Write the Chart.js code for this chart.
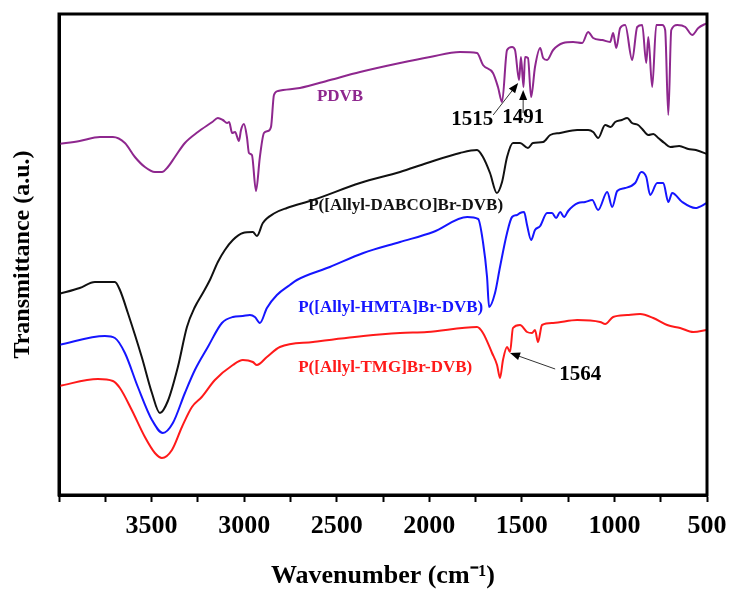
<!DOCTYPE html>
<html>
<head>
<meta charset="utf-8">
<script src="https://cdn.jsdelivr.net/npm/chart.js@4/dist/chart.umd.min.js"></script>
<style>
  body { margin: 0; background: #fff; }
  #box { width: 729px; height: 589px; }
</style>
</head>
<body>
<div id="box"><canvas id="myChart"></canvas></div>
<script>
// FTIR spectra, wavenumber (cm-1) vs transmittance (arbitrary units, curves offset)
var pdvbWn = [4000, 3888, 3779, 3709, 3644, 3590, 3536, 3482, 3444, 3412, 3374, 3320, 3250, 3172, 3142, 3115, 3092, 3081, 3065, 3049, 3028, 3017, 3001, 2985, 2974, 2958, 2936, 2915, 2893, 2872, 2855, 2839, 2817, 2699, 2536, 2374, 2158, 1996, 1834, 1742, 1710, 1656, 1629, 1607, 1580, 1553, 1537, 1515, 1505, 1491, 1483, 1467, 1450, 1429, 1401, 1385, 1364, 1331, 1277, 1223, 1174, 1142, 1115, 1066, 1023, 1007, 990, 969, 942, 904, 877, 850, 828, 817, 796, 774, 742, 726, 709, 693, 661, 617, 580, 547, 500];
var pdvbT = [351, 354, 358, 358, 352, 338, 328, 323, 323, 328, 338, 352, 363, 373, 377, 375, 372, 373, 362, 363, 354, 365, 371, 358, 342, 340, 304, 338, 362, 364, 368, 400, 404, 407, 415, 423, 432, 438, 443, 442, 430, 422, 408, 393, 445, 448, 445, 415, 438, 408, 438, 437, 398, 428, 447, 437, 435, 445, 452, 453, 452, 463, 457, 455, 453, 462, 447, 467, 470, 435, 468, 470, 432, 458, 408, 470, 470, 465, 380, 465, 470, 468, 460, 467, 472];

var dabcoWn = [4000, 3888, 3806, 3698, 3671, 3628, 3553, 3498, 3455, 3412, 3358, 3309, 3266, 3223, 3185, 3142, 3104, 3061, 3007, 2953, 2931, 2899, 2834, 2769, 2628, 2374, 2158, 2012, 1834, 1742, 1710, 1672, 1635, 1607, 1580, 1548, 1510, 1467, 1440, 1385, 1347, 1293, 1201, 1142, 1115, 1088, 1050, 1020, 996, 960, 931, 905, 872, 850, 817, 790, 763, 730, 698, 650, 601, 560, 500];
var dabcoT = [201, 207, 213, 213, 205, 182, 138, 102, 82, 94, 128, 168, 188, 202, 215, 233, 245, 255, 262, 263, 259, 272, 282, 287, 295, 312, 323, 332, 342, 345, 338, 322, 302, 313, 338, 352, 352, 347, 352, 353, 360, 362, 365, 365, 363, 357, 370, 368, 373, 375, 377, 372, 370, 366, 360, 361, 357, 352, 348, 349, 346, 345, 341];

var hmtaWn = [4000, 3752, 3698, 3644, 3574, 3498, 3439, 3385, 3320, 3266, 3196, 3120, 3061, 3007, 2969, 2942, 2915, 2877, 2823, 2753, 2715, 2537, 2356, 2158, 1979, 1795, 1736, 1710, 1688, 1677, 1645, 1618, 1580, 1553, 1526, 1510, 1488, 1472, 1450, 1429, 1401, 1364, 1337, 1315, 1293, 1272, 1250, 1223, 1196, 1158, 1120, 1088, 1039, 1012, 985, 942, 888, 855, 828, 807, 769, 736, 709, 688, 634, 563, 500];
var hmtaT = [150, 159, 157, 142, 108, 75, 62, 72, 102, 125, 148, 172, 178, 179, 180, 178, 172, 187, 200, 210, 215, 228, 242, 253, 263, 278, 276, 253, 218, 188, 202, 228, 262, 278, 280, 282, 283, 270, 255, 265, 269, 282, 282, 277, 283, 278, 284, 289, 292, 293, 295, 285, 303, 288, 304, 307, 312, 323, 318, 300, 312, 312, 293, 302, 293, 287, 292];

var tmgWn = [4000, 3790, 3709, 3671, 3607, 3536, 3482, 3444, 3390, 3336, 3282, 3229, 3158, 3061, 3007, 2953, 2931, 2877, 2807, 2628, 2356, 2158, 2012, 1742, 1710, 1661, 1634, 1618, 1602, 1580, 1564, 1548, 1510, 1472, 1445, 1429, 1413, 1391, 1331, 1201, 1077, 1050, 1007, 931, 861, 790, 715, 645, 574, 500];
var tmgT = [109, 116, 114, 107, 85, 58, 42, 37, 45, 68, 88, 98, 115, 130, 135, 133, 130, 138, 148, 153, 159, 162, 163, 168, 162, 142, 130, 117, 135, 148, 143, 167, 170, 163, 162, 165, 153, 170, 172, 175, 173, 171, 178, 180, 181, 177, 170, 167, 163, 165];

var xTicks = [3500, 3000, 2500, 2000, 1500, 1000, 500];

// text labels: [text, wavenumber, T, colour, size, align]
var labels = [
  ["PDVB", 2607, 398, "#8e278e", 17, "left"],
  ["P([Allyl-DABCO]Br-DVB)", 2654, 289, "#111111", 17, "left"],
  ["P([Allyl-HMTA]Br-DVB)", 2708, 187, "#1515ff", 17, "left"],
  ["P([Allyl-TMG]Br-DVB)", 2708, 127, "#ff1a1a", 17, "left"],
  ["1515", 1768, 375, "#000", 21, "center"],
  ["1491", 1493, 377, "#000", 21, "center"],
  ["1564", 1185, 120, "#000", 21, "center"]
];
// arrows: [fromWn, fromT, toWn, toT]
var arrows = [
  [1655, 380, 1520, 412],
  [1493, 382, 1493, 405],
  [1320, 126, 1564, 142]
];

function pts(wn, t) {
  return wn.map(function (w, i) { return { x: w, y: t[i] }; });
}

var extras = {
  id: 'extras',
  afterDraw: function (chart) {
    var ctx = chart.ctx, a = chart.chartArea;
    var xs = chart.scales.x, ys = chart.scales.y;
    ctx.save();
    ctx.lineWidth = 3;
    ctx.strokeStyle = '#000';
    ctx.strokeRect(a.left, a.top, a.right - a.left, a.bottom - a.top);

    ctx.textBaseline = 'middle';
    labels.forEach(function (l) {
      ctx.font = 'bold ' + l[4] + 'px "Liberation Serif", "Times New Roman", serif';
      ctx.fillStyle = l[3];
      ctx.textAlign = l[5];
      ctx.fillText(l[0], xs.getPixelForValue(l[1]), ys.getPixelForValue(l[2]));
    });

    arrows.forEach(function (r) {
      var x1 = xs.getPixelForValue(r[0]), y1 = ys.getPixelForValue(r[1]);
      var x2 = xs.getPixelForValue(r[2]), y2 = ys.getPixelForValue(r[3]);
      var ang = Math.atan2(y2 - y1, x2 - x1);
      ctx.strokeStyle = '#333';
      ctx.lineWidth = 1;
      ctx.beginPath();
      ctx.moveTo(x1, y1);
      ctx.lineTo(x2 - 6 * Math.cos(ang), y2 - 6 * Math.sin(ang));
      ctx.stroke();
      ctx.fillStyle = '#000';
      ctx.beginPath();
      ctx.moveTo(x2, y2);
      ctx.lineTo(x2 - 10 * Math.cos(ang) + 4 * Math.sin(ang), y2 - 10 * Math.sin(ang) - 4 * Math.cos(ang));
      ctx.lineTo(x2 - 10 * Math.cos(ang) - 4 * Math.sin(ang), y2 - 10 * Math.sin(ang) + 4 * Math.cos(ang));
      ctx.closePath();
      ctx.fill();
    });
    ctx.restore();
  }
};

var serif = '"Liberation Serif", "Times New Roman", serif';
var ctx = document.getElementById("myChart");
var myChart = new Chart(ctx, {
  type: 'line',
  data: {
    datasets: [
      { label: 'PDVB', data: pts(pdvbWn, pdvbT), borderColor: '#8e278e' },
      { label: 'P([Allyl-DABCO]Br-DVB)', data: pts(dabcoWn, dabcoT), borderColor: '#111111' },
      { label: 'P([Allyl-HMTA]Br-DVB)', data: pts(hmtaWn, hmtaT), borderColor: '#1515ff' },
      { label: 'P([Allyl-TMG]Br-DVB)', data: pts(tmgWn, tmgT), borderColor: '#ff1a1a' }
    ]
  },
  options: {
    responsive: true,
    maintainAspectRatio: false,
    animation: false,
    layout: { padding: { top: 14, right: 22, left: 0, bottom: 0 } },
    elements: {
      point: { radius: 0 },
      line: { borderWidth: 2, cubicInterpolationMode: 'monotone', fill: false }
    },
    plugins: { legend: { display: false }, tooltip: { enabled: false } },
    scales: {
      x: {
        type: 'linear',
        reverse: true,
        min: 500,
        max: 4000,
        afterFit: function (s) { s.height = 94; },
        afterBuildTicks: function (s) {
          var t = [];
          for (var v = 500; v <= 4000; v += 250) t.push({ value: v });
          s.ticks = t;
        },
        ticks: {
          color: '#000',
          font: { family: serif, size: 26, weight: 'bold' },
          padding: 9,
          maxRotation: 0,
          autoSkip: false,
          callback: function (v) { return xTicks.indexOf(v) >= 0 ? String(v) : ''; }
        },
        grid: { drawOnChartArea: false, drawTicks: true, tickLength: 7, tickWidth: 2, tickColor: '#000' },
        border: { display: true, width: 3, color: '#000' },
        title: {
          display: true,
          text: 'Wavenumber (cm\u207B\u00B9)',
          color: '#000',
          font: { family: serif, size: 26, weight: 'bold', lineHeight: 1 },
          padding: { top: 0, bottom: 0 }
        }
      },
      y: {
        min: 0,
        max: 481,
        afterFit: function (s) { s.width = 59; },
        ticks: { display: false },
        grid: { display: false },
        border: { display: true, width: 3, color: '#000' },
        title: {
          display: true,
          text: 'Transmittance (a.u.)',
          color: '#000',
          font: { family: serif, size: 24, weight: 'bold', lineHeight: 1 },
          padding: { top: 11, bottom: 0 }
        }
      }
    }
  },
  plugins: [extras]
});
</script>
</body>
</html>
